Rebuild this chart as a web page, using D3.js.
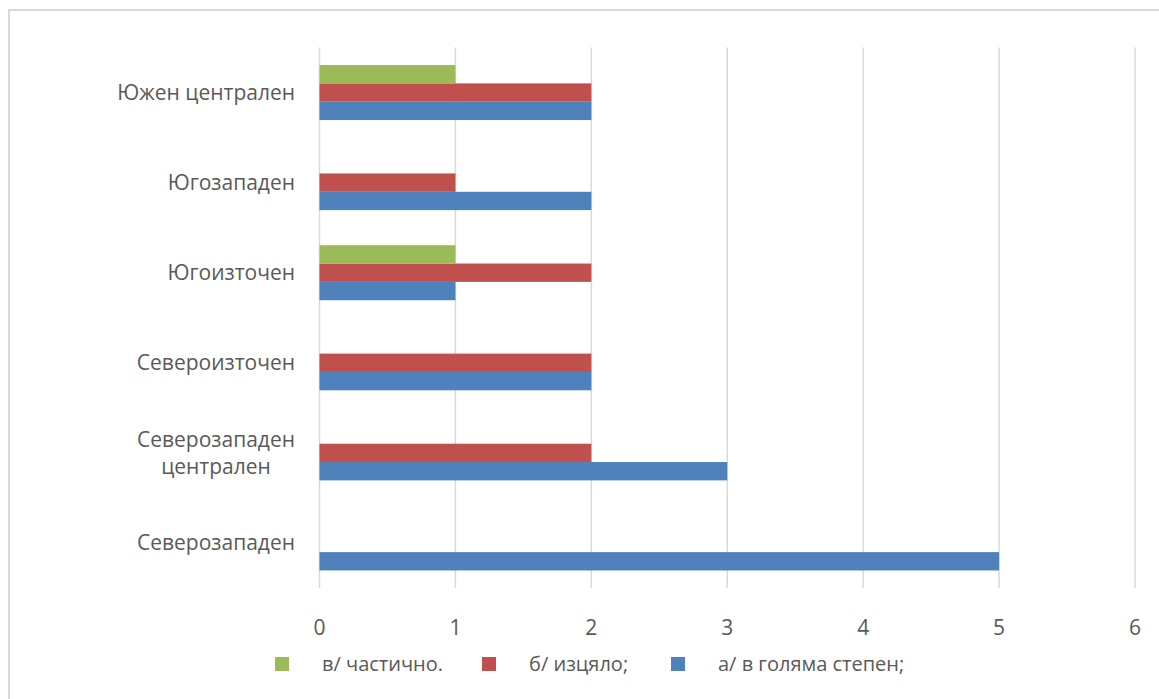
<!DOCTYPE html>
<html>
<head>
<meta charset="utf-8">
<script src="https://cdn.jsdelivr.net/npm/d3@7"></script>
<style>
  body { margin: 0; background: #fff; }
  text { font-family: "Open Sans", "Noto Sans", sans-serif; fill: #595959; }
</style>
</head>
<body>
<div id="chart"></div>
<script>
// categories, top to bottom as drawn
const categories = ['Южен централен', 'Югозападен', 'Югоизточен', 'Североизточен', 'Северозападен централен', 'Северозападен']
const categoryLines = {
  'Северозападен централен': ['Северозападен', 'централен']
}
const seriesNames = ['а/ в голяма степен;', 'б/ изцяло;', 'в/ частично.']
const seriesColors = ['#4F81BD', '#C0504D', '#9BBB59']
// values per category, same order as categories
const valuesA = [2, 2, 1, 2, 3, 5]
const valuesB = [2, 1, 2, 2, 2, 0]
const valuesC = [1, 0, 1, 0, 0, 0]
const xTicks = [0, 1, 2, 3, 4, 5, 6]

const width = 1159
const height = 699
const plot = { left: 319.5, right: 1135, top: 47.5, bottom: 588 }

const svg = d3.select('#chart')
  .append('svg')
  .attr('width', width)
  .attr('height', height)

svg.append('rect')
  .attr('x', 9)
  .attr('y', 10)
  .attr('width', 1300)
  .attr('height', 900)
  .attr('fill', 'none')
  .attr('stroke', '#d9d9d9')
  .attr('stroke-width', 2)

const x = d3.scaleLinear()
  .domain([0, 6])
  .range([plot.left, plot.right])

const y = d3.scaleBand()
  .domain(categories)
  .range([plot.top, plot.bottom])

// series inside a group: first series sits at the bottom
const inner = d3.scaleBand()
  .domain([2, 1, 0])
  .range([(y.bandwidth() - 55) / 2, (y.bandwidth() + 55) / 2])

// gridlines
svg.append('g')
  .selectAll('line')
  .data(xTicks)
  .enter()
  .append('line')
  .attr('x1', d => x(d))
  .attr('x2', d => x(d))
  .attr('y1', plot.top)
  .attr('y2', plot.bottom)
  .attr('stroke', '#d9d9d9')
  .attr('stroke-width', 1.5)

const allValues = [valuesA, valuesB, valuesC]

allValues.forEach((vals, si) => {
  const rows = vals.map((v, i) => ({ cat: categories[i], value: v }))
                   .filter(d => d.value > 0)
  svg.append('g')
    .selectAll('rect')
    .data(rows)
    .enter()
    .append('rect')
    .attr('x', x(0))
    .attr('y', d => y(d.cat) + inner(si))
    .attr('width', d => x(d.value) - x(0))
    .attr('height', inner.bandwidth())
    .attr('fill', seriesColors[si])
})

// x tick labels
svg.append('g')
  .selectAll('text')
  .data(xTicks)
  .enter()
  .append('text')
  .attr('x', d => x(d))
  .attr('y', 628)
  .attr('dy', '0.35em')
  .attr('text-anchor', 'middle')
  .style('font-size', '21px')
  .text(d => d)

// category labels, right edge at 295, wrapped lines centred
const catG = svg.append('g')
categories.forEach(c => {
  const lines = categoryLines[c] || [c]
  const cy = y(c) + y.bandwidth() / 2
  const t = catG.append('text')
    .attr('text-anchor', 'middle')
    .style('font-size', '21px')
  lines.forEach((ln, i) => {
    t.append('tspan')
      .attr('y', cy + (i - (lines.length - 1) / 2) * 27)
      .attr('dy', '0.35em')
      .text(ln)
  })
  const w = d3.max(t.selectAll('tspan').nodes(), n => n.getComputedTextLength())
  t.selectAll('tspan').attr('x', 295 - w / 2)
})

// legend, reversed order
const legendX = [275, 482, 671]
const legendItems = [2, 1, 0]
const legend = svg.append('g')
legendItems.forEach((si, k) => {
  legend.append('rect')
    .attr('x', legendX[k])
    .attr('y', 657)
    .attr('width', 14)
    .attr('height', 14)
    .attr('fill', seriesColors[si])
  legend.append('text')
    .attr('x', legendX[k] + 47)
    .attr('y', 664)
    .attr('dy', '0.35em')
    .style('font-size', '20px')
    .text(seriesNames[si])
})
</script>
</body>
</html>
